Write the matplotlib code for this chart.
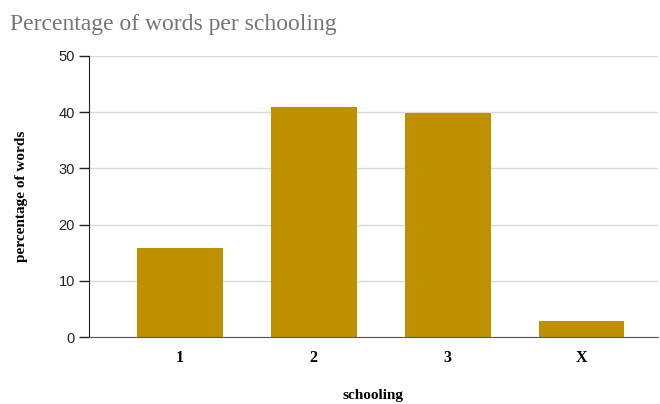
import matplotlib.pyplot as plt

categories = ["1", "2", "3", "X"]
percentages = [15.8, 41.0, 39.9, 2.9]
y_ticks = [0, 10, 20, 30, 40, 50]

fig = plt.figure(figsize=(6.6, 4.04), dpi=100)
ax = fig.add_axes([0.1348, 0.1658, 0.862, 0.6956])

x = list(range(len(categories)))
ax.bar(x, percentages, width=0.64, color="#BF9000", zorder=3)

ax.set_xlim(-0.68, 3.57)
ax.set_ylim(0, 50)
ax.set_yticks(y_ticks)
ax.set_xticks(x)
ax.set_xticklabels(categories, fontfamily="Liberation Serif", fontweight="bold", fontsize=11.5)
for lbl in ax.get_yticklabels():
    lbl.set_fontfamily("Liberation Sans")
    lbl.set_fontsize(10.5)
    lbl.set_color("#222222")

ax.tick_params(axis="x", length=0, pad=9)
ax.tick_params(axis="y", length=7, width=1, color="#222222", pad=3)
ax.grid(axis="y", color="#d9d9d9", linewidth=1, zorder=0)

for side in ("top", "right"):
    ax.spines[side].set_visible(False)
ax.spines["left"].set_color("#222222")
ax.spines["bottom"].set_color("#555555")
ax.spines["left"].set_zorder(4)
ax.spines["bottom"].set_zorder(4)

ax.set_ylabel("percentage of words", fontfamily="Liberation Serif",
              fontweight="bold", fontsize=11, labelpad=22)
ax.set_xlabel("schooling", fontfamily="Liberation Serif",
              fontweight="bold", fontsize=11, labelpad=17)

fig.text(0.015, 0.94, "Percentage of words per schooling",
         fontfamily="Liberation Serif", fontsize=17, color="#757575", va="center")

fig.savefig("out.png", dpi=100)
